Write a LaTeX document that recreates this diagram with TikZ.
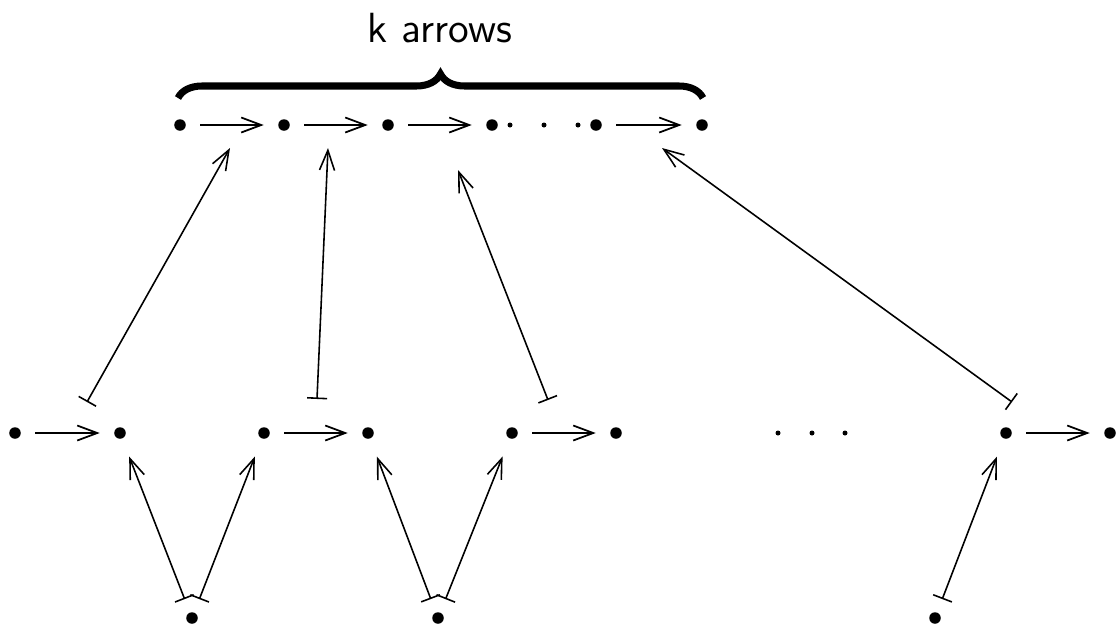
\documentclass[tikz,border=0pt]{standalone}
\usetikzlibrary{arrows.meta,decorations.pathreplacing}
\tikzset{
  dot/.style={circle, fill, inner sep=0pt, minimum size=1.15mm, outer sep=1.45mm},
  smalldot/.style={circle, fill, inner sep=0pt, minimum size=0.5mm},
  arr/.style={-{Straight Barb[length=2mm,width=1.5mm]}, line width=0.5pt},
  mapsarr/.style={{Bar[width=2mm]}-{Straight Barb[length=2mm,width=1.5mm]}, line width=0.45pt},
  bracebar/.style={decorate, decoration={brace, amplitude=2.4mm}, line width=2pt}
}

\begin{document}
\begin{tikzpicture}[x=0.01cm, y=-0.01cm]
  \useasboundingbox (0,0) rectangle (1118,627);
  % top row
  \foreach \name/\xx in {t0/180, t1/284, t2/388, t3/492, t4/596, t5/702}
    \node[dot] (\name) at (\xx,125) {};
  \foreach \xx in {510, 544, 578}
    \node[smalldot] at (\xx,125) {};
  \draw[arr] (t0) -- (t1);
  \draw[arr] (t1) -- (t2);
  \draw[arr] (t2) -- (t3);
  \draw[arr] (t4) -- (t5);
  % brace and label
  \coordinate (bl) at (178,98);
  \coordinate (br) at (703,98);
  \draw[bracebar] (bl) -- (br);
  \node[font=\sffamily\large] (lbl) at (440,28) {k arrows};
  % middle row
  \foreach \name/\xx in {m0/15, m1/120, m2/264, m3/368, m4/512, m5/616, m6/1006, m7/1110}
    \node[dot] (\name) at (\xx,433) {};
  \foreach \xx in {778, 812, 845}
    \node[smalldot] at (\xx,433) {};
  \draw[arr] (m0) -- (m1);
  \draw[arr] (m2) -- (m3);
  \draw[arr] (m4) -- (m5);
  \draw[arr] (m6) -- (m7);
  % bottom row
  \node[dot] (b0) at (192,618) {};
  \node[dot] (b1) at (438,618) {};
  \node[dot] (b2) at (935,618) {};
  % maps between the rows
  \coordinate (p1) at (87,402);   \coordinate (q1) at (230,148);
  \coordinate (p2) at (317,399);  \coordinate (q2) at (328,148);
  \coordinate (p3) at (548,400);  \coordinate (q3) at (458,170);
  \coordinate (p4) at (1012,402); \coordinate (q4) at (662,148);
  \foreach \i in {1,...,4}
    \draw[mapsarr] (p\i) -- (q\i);
  \draw[mapsarr, shorten >=0.5mm] (b0) -- (m1);
  \draw[mapsarr, shorten >=0.5mm] (b0) -- (m2);
  \draw[mapsarr, shorten >=0.5mm] (b1) -- (m3);
  \draw[mapsarr, shorten >=0.5mm] (b1) -- (m4);
  \draw[mapsarr, shorten >=0.5mm] (b2) -- (m6);
\end{tikzpicture}
\end{document}
